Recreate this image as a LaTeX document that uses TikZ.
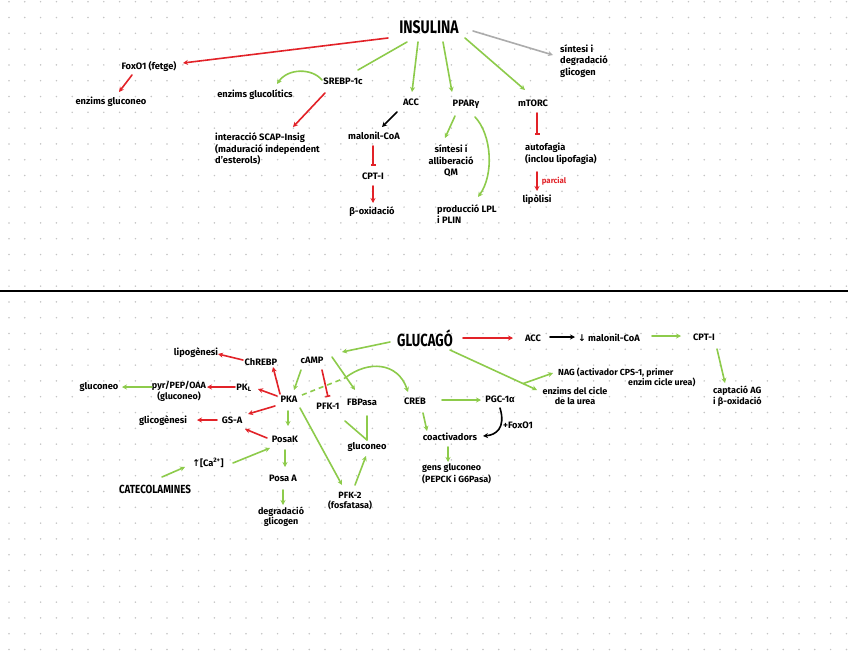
\documentclass[tikz,border=0pt]{standalone}
\usepackage{fontspec}
\usepackage{graphicx}
\setmainfont{Fira Sans}
\newfontfamily\symf{DejaVu Sans}
\usetikzlibrary{arrows.meta}
\definecolor{rd}{RGB}{226,34,40}
\definecolor{gn}{RGB}{141,203,75}
\definecolor{gy}{RGB}{172,172,172}
\definecolor{dotc}{RGB}{196,196,196}
\tikzset{
  lb/.style={font=\bfseries\fontsize{9.3}{11.5}\selectfont, inner sep=1pt, align=center, text=black},
  lbl/.style={lb, align=left},
  ln/.style={line width=1.6pt, line cap=round},
  ga/.style={ln, gn, -{Stealth[length=5pt,width=5pt]}},
  gl/.style={ln, gn},
  ra/.style={ln, rd, -{Stealth[length=5pt,width=5pt]}},
  rt/.style={ln, rd, -{Bar[width=5pt,line cap=butt]}},
  ka/.style={ln, black, -{Stealth[length=5pt,width=5pt]}},
  gya/.style={ln, gy, -{Stealth[length=5pt,width=5pt]}},
  gd/.style={ln, gn, line cap=butt, dash pattern=on 5pt off 4pt},
}
\begin{document}
\begin{tikzpicture}[x=1pt,y=-1pt]
\fill[white] (0,0) rectangle (848,656);
\useasboundingbox (0,0) rectangle (848,656);
\foreach \i in {0,...,53}{\foreach \j in {0,...,41}{\fill[dotc] ({9+15.8*\i},{1.7+15.8*\j}) circle (0.85);}}
\draw[line width=1.3pt] (0,291) -- (848,291);

% ---------- INSULINA ----------
\node[lb] (ins) at (429,27) {\fontsize{14}{16}\selectfont\scalebox{1}[1.3]{INSULINA}};
\node[lbl, anchor=west, font=\bfseries\fontsize{9.3}{11.8}\selectfont] (sint) at (559,61) {síntesi i\\degradació\\glicogen};
\node[lb] (foxo) at (149,67) {FoxO1 (fetge)};
\node[lb] (egn) at (111,102) {enzims gluconeo};
\node[lb] (eglic) at (255,95) {enzims glucolítics};
\node[lb] (srebp) at (343,81) {SREBP-1c};
\node[lbl, anchor=west] (scap) at (214,149) {interacció SCAP-Insig\\(maduració independent\\d'esterols)};
\node[lb] (acc) at (411,102) {ACC};
\node[lb] (mal) at (374,136) {malonil-CoA};
\node[lb] (cpt) at (373,176) {CPT-I};
\node[lb] (box) at (372,212) {β-oxidació};
\node[lb] (ppar) at (466,104) {PPARγ};
\node[lb] (sintqm) at (451,161) {síntesi i\\alliberació\\QM};
\node[lbl, anchor=west] (lpl) at (436,214) {producció LPL\\i PLIN};
\node[lb] (mtorc) at (533,103) {mTORC};
\node[lbl, anchor=west] (auto) at (524,154) {autofagia\\(inclou lipofagia)};
\node[lb, text=rd, font=\bfseries\fontsize{7.8}{9}\selectfont] (parcial) at (554,181) {parcial};
\node[lb] (lipol) at (537,200) {lipòlisi};

\draw[ra] ([shift={(-41,11)}]ins.center) -- ([shift={(34,-4)}]foxo.center);
\draw[ra] ([shift={(-17,8)}]foxo.center) -- ([shift={(8,-10)}]egn.center);
\draw[gl] ([shift={(-22,15)}]ins.center) -- ([shift={(15,-11)}]srebp.center);
\draw[ga] ([shift={(-11,15)}]ins.center) -- ([shift={(1,-10)}]acc.center);
\draw[ga] ([shift={(14,15)}]ins.center) -- ([shift={(-14,-12)}]ppar.center);
\draw[ga] ([shift={(36,11)}]ins.center) -- ([shift={(-8,-13)}]mtorc.center);
\draw[gya] ([shift={(44,4)}]ins.center) -- ([shift={(-6,-6)}]sint.west);
\draw[ga] ([shift={(-21,-1)}]srebp.center) .. controls (312,68) and (288,68) .. ([shift={(22,-11)}]eglic.center);
\draw[ra] ([shift={(-18,12)}]srebp.center) -- ([shift={(79,-22)}]scap.west);
\draw[ka] ([shift={(-14,10)}]acc.center) -- ([shift={(8,-9)}]mal.center);
\draw[rt] ([shift={(-1,10)}]mal.center) -- ([shift={(0,-10)}]cpt.center);
\draw[ra] ([shift={(0,10)}]cpt.center) -- ([shift={(1,-9)}]box.center);
\draw[ga] ([shift={(-11,12)}]ppar.center) -- ([shift={(-6,-23)}]sintqm.center);
\draw[ga] ([shift={(9,13)}]ppar.center) .. controls (492,135) and (494,175) .. ([shift={(42,-17)}]lpl.west);
\draw[rt] ([shift={(4,10)}]mtorc.center) -- ([shift={(13,-19)}]auto.west);
\draw[ra] ([shift={(13,18)}]auto.west) -- ([shift={(0,-9)}]lipol.center);

% ---------- GLUCAGO ----------
\node[lb] (gluc) at (425,338) {\fontsize{13}{15}\selectfont\scalebox{1}[1.35]{GLUCAGÓ}};
\node[lb] (acc2) at (533,338) {ACC};
\node[lb] (malc2) at (609,338) {{\symf ↓} malonil-CoA};
\node[lb] (cpt2) at (704,337) {CPT-I};
\node[lbl, anchor=west, font=\bfseries\fontsize{9}{10.5}\selectfont] (capt) at (712,396) {captació AG\\i β-oxidació};
\node[lb, anchor=west, font=\bfseries\fontsize{8.8}{10}\selectfont] (nag) at (557,373) {NAG (activador CPS-1, primer};
\node[lb, anchor=west, font=\bfseries\fontsize{8.8}{10}\selectfont] (nagb) at (627,382) {enzim cicle urea)};
\node[lb, font=\bfseries\fontsize{9}{10.5}\selectfont] (urea) at (575,396) {enzims del cicle\\de la urea};
\node[lb] (camp) at (312,360) {cAMP};
\node[lb] (pka) at (289,399) {PKA};
\node[lb] (chrebp) at (261,362) {ChREBP};
\node[lb] (lipog) at (196,353) {lipogènesi};
\node[lb] (pkl) at (244,388) {PK\textsubscript{L}};
\node[lb, font=\bfseries\fontsize{9}{9.5}\selectfont] (pyr) at (179,391) {pyr/PEP/OAA\\(gluconeo)};
\node[lb] (glneo1) at (99,387) {gluconeo};
\node[lb] (gsa) at (232,420) {GS-A};
\node[lb] (glicog) at (163,421) {glicogènesi};
\node[lb] (posak) at (285,439) {PosaK};
\node[lb] (ca) at (208,463) {{\symf ↑}[Ca\textsuperscript{2+}]};
\node[lb, font=\bfseries\fontsize{9.8}{11}\selectfont] (cat) at (155,489) {\scalebox{1}[1.2]{CATECOLAMINES}};
\node[lb] (posaa) at (283,478) {Posa A};
\node[lb, font=\bfseries\fontsize{9}{10}\selectfont] (degr) at (281,517) {degradació\\glicogen};
\node[lb] (pfk1) at (328,406) {PFK-1};
\node[lb] (fbp) at (362,402) {FBPasa};
\node[lb] (glneo2) at (367,447) {gluconeo};
\node[lb, font=\bfseries\fontsize{9}{10}\selectfont] (pfk2) at (350,501) {PFK-2\\(fosfatasa)};
\node[lb] (creb) at (415,401) {CREB};
\node[lb] (pgc) at (500,399) {PGC-1α};
\node[lb] (foxo2) at (518,425) {+FoxO1};
\node[lb] (coact) at (450,437) {coactivadors};
\node[lbl, anchor=west, font=\bfseries\fontsize{9}{11.5}\selectfont] (gens) at (421,474) {gens gluconeo\\(PEPCK i G6Pasa)};
\coordinate (k1) at (345,378);

\draw[ra] ([shift={(38,0)}]gluc.center) -- ([shift={(-20,0)}]acc2.center);
\draw[ka] ([shift={(17,-1)}]acc2.center) -- ([shift={(-34,-1)}]malc2.center);
\draw[ga] ([shift={(43,-2)}]malc2.center) -- ([shift={(-23,-1)}]cpt2.center);
\draw[ga] ([shift={(13,12)}]cpt2.center) -- ([shift={(13,-13)}]capt.west);
\draw[ga] ([shift={(25,12)}]gluc.center) -- coordinate[pos=0.84] (br) ([shift={(-38,-6)}]urea.center);
\draw[ga] (br) -- ([shift={(-4,0)}]nag.west);
\draw[ga] ([shift={(-35,4)}]gluc.center) -- ([shift={(30,-8)}]camp.center);
\draw[ga] ([shift={(-11,10)}]camp.center) -- ([shift={(5,-9)}]pka.center);
\draw[rt] ([shift={(10,10)}]camp.center) -- ([shift={(0,-9)}]pfk1.center);
\draw[ga] ([shift={(20,-3)}]camp.center) -- ([shift={(-7,-12)}]fbp.center);
\draw[gd] ([shift={(13,-4)}]pka.center) -- (k1);
\draw[ga] (k1) .. controls (368,360) and (398,362) .. ([shift={(-7,-9)}]creb.center);
\draw[ra] ([shift={(-18,-2)}]chrebp.center) -- ([shift={(22,1)}]lipog.center);
\draw[ra] ([shift={(-9,-5)}]pka.center) -- ([shift={(12,5)}]chrebp.center);
\draw[ra] ([shift={(-12,-3)}]pka.center) -- ([shift={(14,1)}]pkl.center);
\draw[ra] ([shift={(-9,-1)}]pkl.center) -- ([shift={(28,-4)}]pyr.center);
\draw[ga] ([shift={(-27,-4)}]pyr.center) -- ([shift={(23,0)}]glneo1.center);
\draw[ra] ([shift={(-14,7)}]pka.center) -- ([shift={(16,-6)}]gsa.center);
\draw[ra] ([shift={(-15,0)}]gsa.center) -- ([shift={(34,-1)}]glicog.center);
\draw[ra] ([shift={(-18,-1)}]posak.center) -- ([shift={(13,9)}]gsa.center);
\draw[ga] ([shift={(-1,12)}]pka.center) -- ([shift={(3,-13)}]posak.center);
\draw[ga] ([shift={(7,-12)}]cat.center) -- ([shift={(-23,4)}]ca.center);
\draw[ga] ([shift={(25,0)}]ca.center) -- ([shift={(-15,9)}]posak.center);
\draw[ga] ([shift={(0,11)}]posak.center) -- ([shift={(2,-11)}]posaa.center);
\draw[ga] ([shift={(0,12)}]posaa.center) -- ([shift={(2,-12)}]degr.center);
\draw[ga] ([shift={(11,9)}]pka.center) -- ([shift={(-8,-16)}]pfk2.center);
\draw[ga] ([shift={(5,-16)}]pfk2.center) -- ([shift={(-1,9)}]glneo2.center);
\draw[gl] ([shift={(5,14)}]fbp.center) -- ([shift={(0,-7)}]glneo2.center);
\draw[gl] ([shift={(17,15)}]pfk1.center) -- ([shift={(0,-7)}]glneo2.center);
\draw[ga] ([shift={(27,-1)}]creb.center) -- ([shift={(-19,1)}]pgc.center);
\draw[ga] ([shift={(8,12)}]creb.center) -- ([shift={(-23,-6)}]coact.center);
\draw[ka] ([shift={(0,9)}]pgc.center) .. controls (506,428) and (496,435) .. ([shift={(33,-1)}]coact.center);
\draw[ga] ([shift={(-2,10)}]coact.center) -- ([shift={(27,-12)}]gens.west);
\end{tikzpicture}
\end{document}
